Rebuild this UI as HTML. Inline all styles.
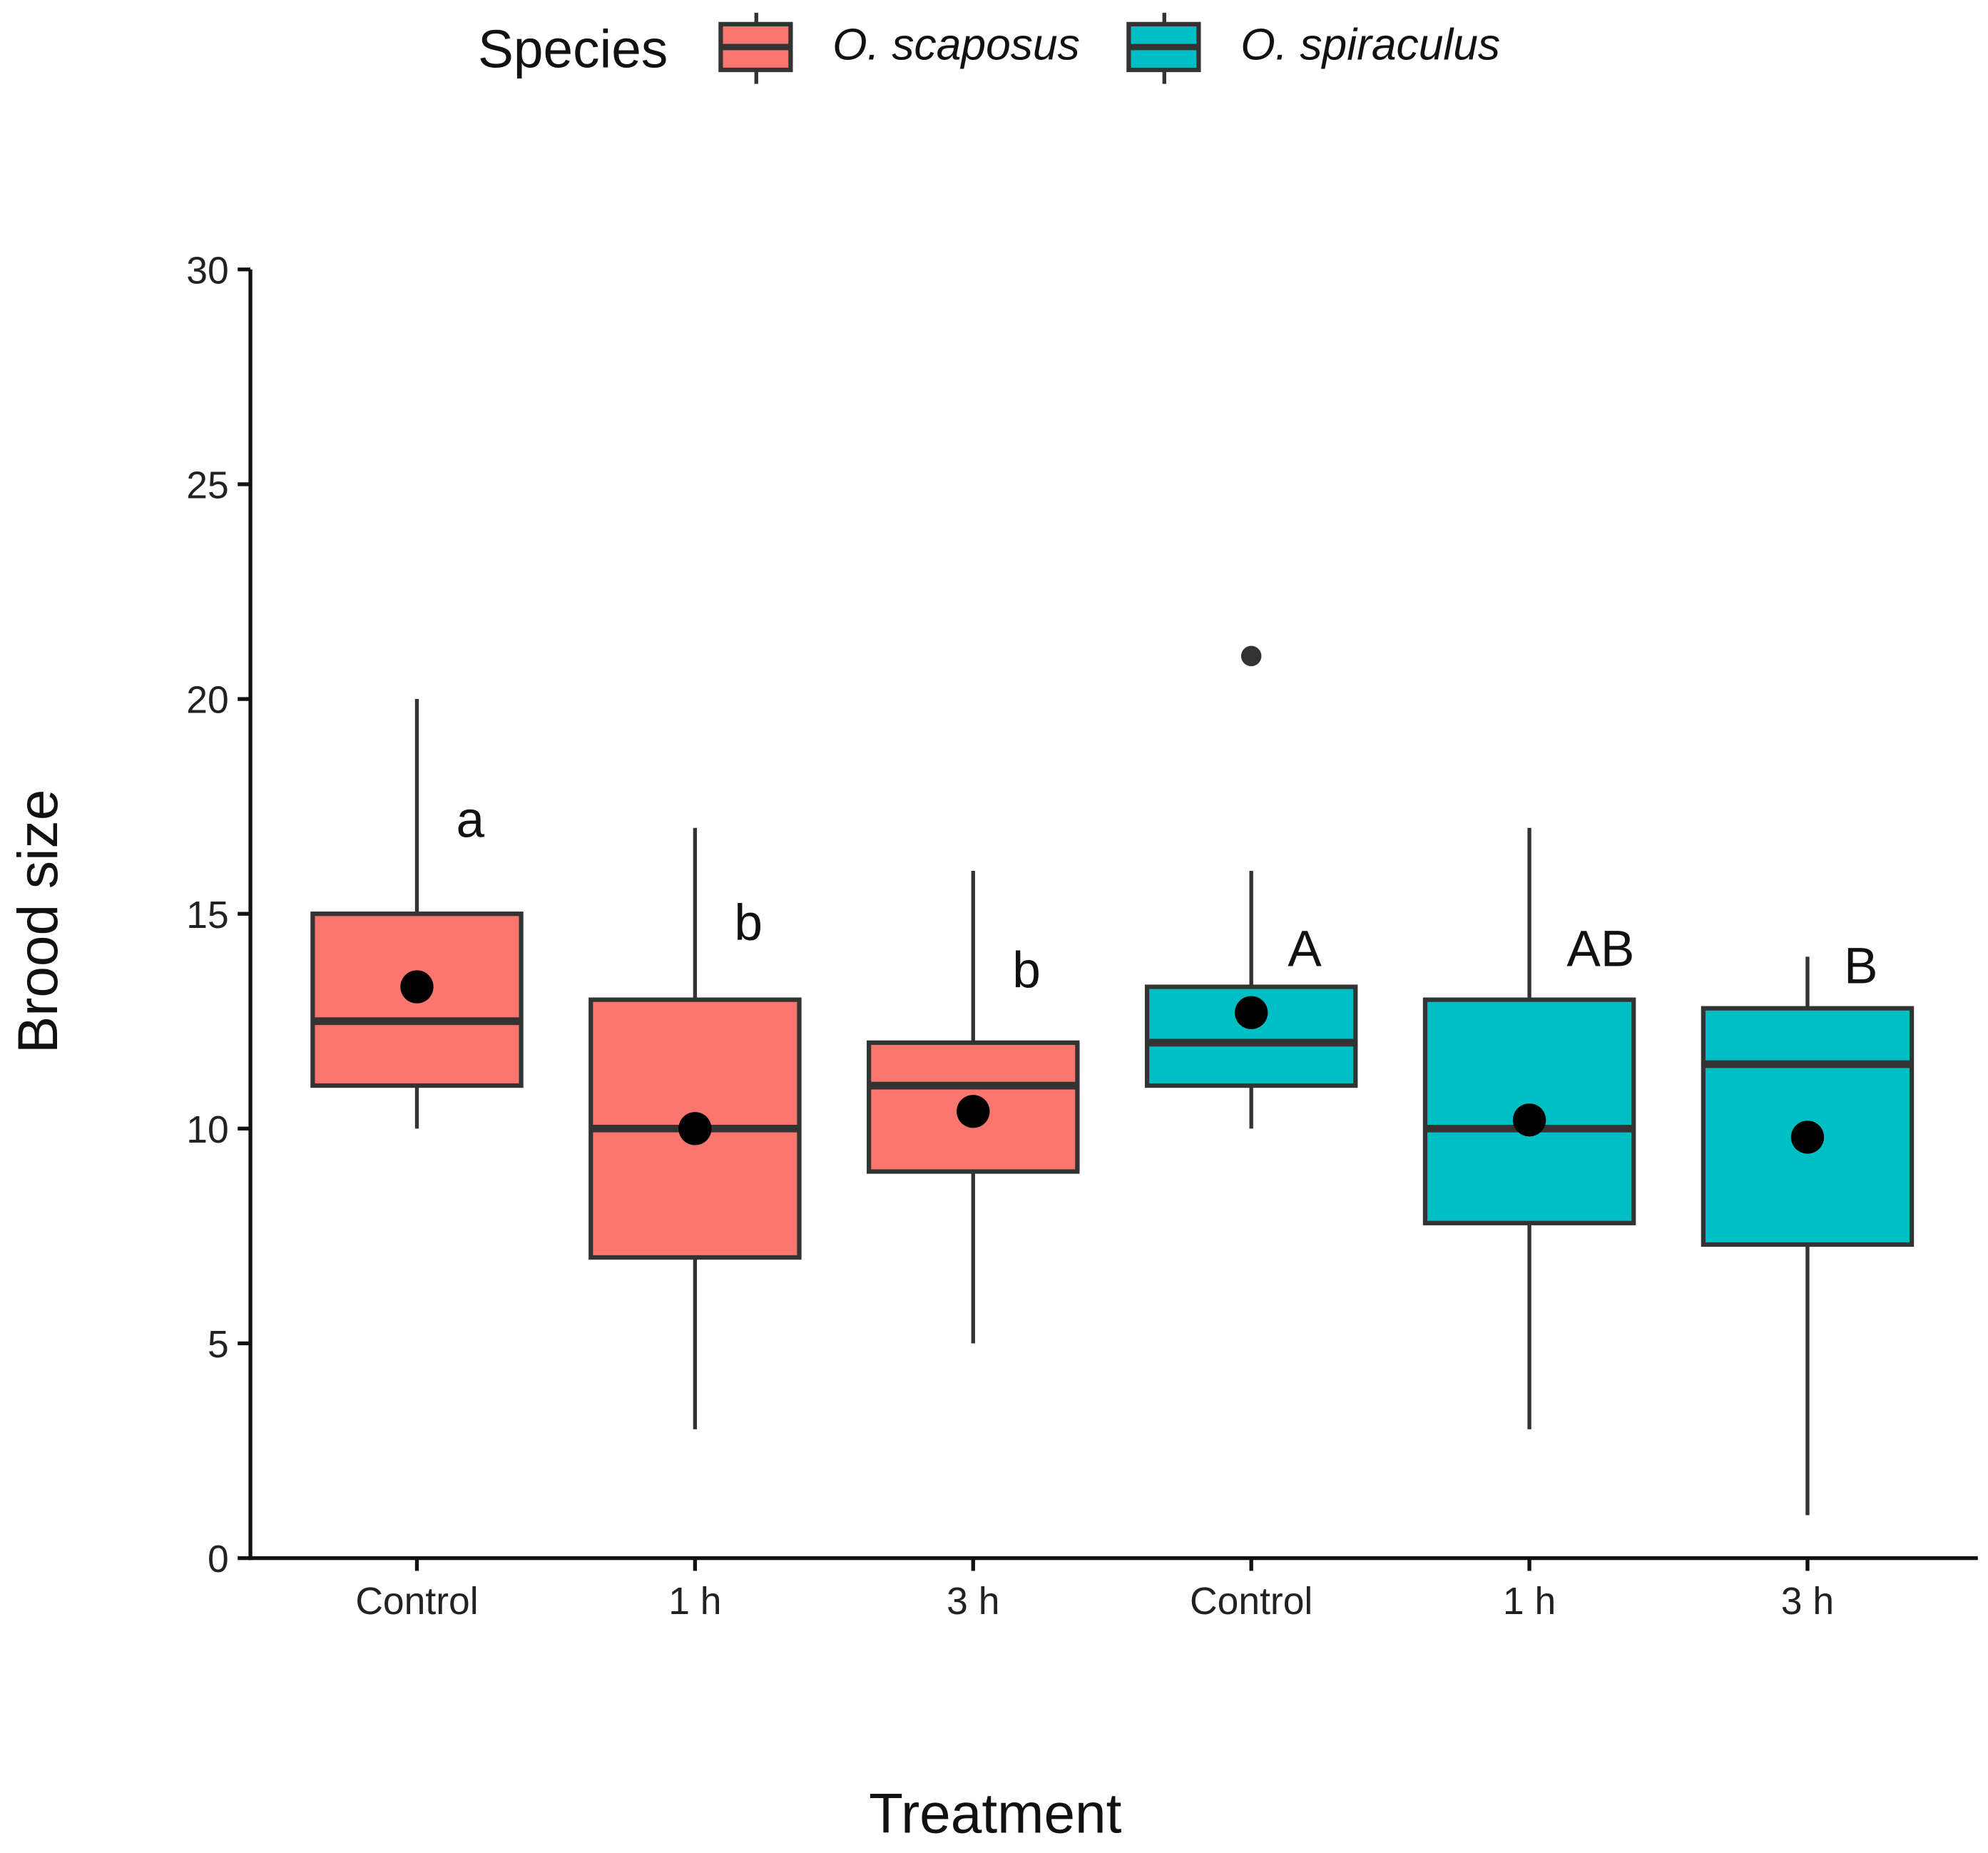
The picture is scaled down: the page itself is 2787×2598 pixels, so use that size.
<!DOCTYPE html>
<html><head><meta charset="utf-8"><style>
html,body{margin:0;padding:0;background:#fff;}
svg{display:block;font-family:"Liberation Sans",sans-serif;}
</style></head><body>
<svg id="chart" width="2787" height="2598" viewBox="0 0 1564 1458" preserveAspectRatio="none" xmlns="http://www.w3.org/2000/svg">
<g>
<text x="376" y="53" font-size="42" fill="#111">Species</text>
<g>
<line x1="595" y1="10" x2="595" y2="66" stroke="#333" stroke-width="3"/>
<rect x="567" y="19" width="55" height="36" fill="#F8766D" stroke="#333" stroke-width="3.5"/>
<line x1="567" y1="37" x2="622" y2="37" stroke="#333" stroke-width="5"/>
<text x="655" y="47" font-size="35" font-style="italic" fill="#111">O. scaposus</text>
</g>
<g>
<line x1="916" y1="10" x2="916" y2="66" stroke="#333" stroke-width="3"/>
<rect x="888" y="19" width="55" height="36" fill="#00BFC4" stroke="#333" stroke-width="3.5"/>
<line x1="888" y1="37" x2="943" y2="37" stroke="#333" stroke-width="5"/>
<text x="976" y="47" font-size="35" font-style="italic" fill="#111">O. spiraculus</text>
</g>
</g>
<g id="axes"></g>
<g id="marks"></g>
<text x="45" y="725" font-size="44" fill="#111" text-anchor="middle" transform="rotate(-90 45 725)">Brood size</text>
<text x="783" y="1442" font-size="44" fill="#111" text-anchor="middle">Treatment</text>
</svg>
<script>
const categories = ["Control","1 h","3 h","Control","1 h","3 h"];
const species = ["scaposus","scaposus","scaposus","spiraculus","spiraculus","spiraculus"];
const whiskerLow = [10,3,5,10,3,1];
const q1 = [11,7,9,11,7.8,7.3];
const medians = [12.5,10,11,12,10,11.5];
const q3 = [15,13,12,13.3,13,12.8];
const whiskerHigh = [20,17,16,16,17,14];
const means = [13.3,10,10.4,12.7,10.2,9.8];
const outliers = [[],[],[],[21],[],[]];
const letters = ["a","b","b","A","AB","B"];
const letterY = [17.2,14.8,13.7,14.2,14.2,13.8];
const yTicks = [0,5,10,15,20,25,30];

const NS="http://www.w3.org/2000/svg";
const y0=1226, y30=212;
function yS(v){return y0-(v/30)*(y0-y30);}
function xS(i){return 328+i*218.8;}
const colors={scaposus:"#F8766D",spiraculus:"#00BFC4"};
function mk(tag,attrs,parent){const e=document.createElementNS(NS,tag);for(const k in attrs)e.setAttribute(k,attrs[k]);parent.appendChild(e);return e;}
const axes=document.getElementById('axes'), marks=document.getElementById('marks');
let a=mk('line',{x1:197,y1:yS(30),x2:197,y2:y0+1.5,stroke:'#111','stroke-width':3},axes);


a=mk('line',{x1:195.5,y1:y0,x2:1556,y2:y0,stroke:'#111','stroke-width':3},axes);


yTicks.forEach(t=>{
  const l=mk('line',{x1:187,y1:yS(t),x2:197,y2:yS(t),stroke:'#111','stroke-width':3},axes);
  
  
  const tx=mk('text',{x:180,y:yS(t)+11,'font-size':30,'text-anchor':'end',fill:'#222'},axes);
  tx.textContent=t;
  
  
});
categories.forEach((c,i)=>{
  const x=xS(i);
  const l=mk('line',{x1:x,y1:y0,x2:x,y2:y0+10,stroke:'#111','stroke-width':3},axes);
  
  
  const tx=mk('text',{x:x,y:y0+44,'font-size':30,'text-anchor':'middle',fill:'#222'},axes);
  tx.textContent=c;
  
  
  const g=mk('g',{},marks);
  
  
  mk('line',{x1:x,y1:yS(whiskerLow[i]),x2:x,y2:yS(q1[i]),stroke:'#333','stroke-width':3},g);
  mk('line',{x1:x,y1:yS(q3[i]),x2:x,y2:yS(whiskerHigh[i]),stroke:'#333','stroke-width':3},g);
  mk('rect',{x:x-82,y:yS(q3[i]),width:164,height:yS(q1[i])-yS(q3[i]),fill:colors[species[i]],stroke:'#333','stroke-width':3.5},g);
  mk('line',{x1:x-82,y1:yS(medians[i]),x2:x+82,y2:yS(medians[i]),stroke:'#333','stroke-width':6},g);
  outliers[i].forEach(o=>{
    const p=mk('circle',{cx:x,cy:yS(o),r:8,fill:'#333'},g);
    
    
  });
  const m=mk('circle',{cx:x,cy:yS(means[i]),r:13,fill:'#000'},g);
  
  
  const lx = x + 42 + (letters[i].length-1)*14;
  const lt=mk('text',{x:lx,y:yS(letterY[i])+14,'font-size':40,'text-anchor':'middle',fill:'#111'},marks);
  lt.textContent=letters[i];
  
  
});
</script>
</body></html>
